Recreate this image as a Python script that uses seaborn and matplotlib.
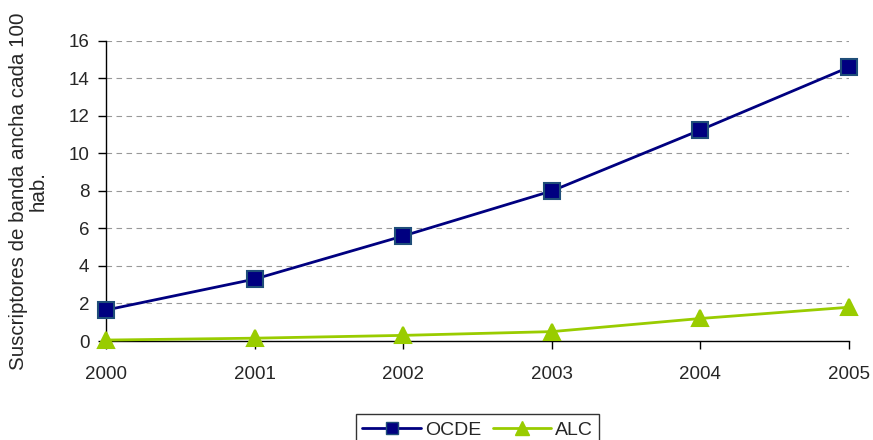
import matplotlib
matplotlib.use("Agg")
import pandas as pd
import seaborn as sns
from matplotlib import pyplot as plt
from matplotlib.lines import Line2D

years = [2000, 2001, 2002, 2003, 2004, 2005]
ocde = [1.65, 3.3, 5.6, 8.0, 11.25, 14.6]
alc = [0.05, 0.15, 0.3, 0.5, 1.2, 1.8]
yticks = [0, 2, 4, 6, 8, 10, 12, 14, 16]

df = pd.DataFrame({"year": years * 2,
                   "value": ocde + alc,
                   "serie": ["OCDE"] * len(years) + ["ALC"] * len(years)})

sns.set_style("white")
plt.rcParams['font.family'] = ['Liberation Sans', 'DejaVu Sans']

fig = plt.figure(figsize=(8.73, 4.4), dpi=100)
ax = fig.add_axes([0.1214, 0.225, 0.8511, 0.682])

palette = {"OCDE": "#000080", "ALC": "#99CC00"}
sns.lineplot(data=df, x="year", y="value", hue="serie", style="serie",
             markers={"OCDE": "s", "ALC": "^"}, dashes=False,
             palette=palette, linewidth=2, markersize=12, ax=ax,
             legend=False)
# marker edges like the original
for line, edge in zip(ax.lines, ["#1F4E79", "#99CC00"]):
    line.set_markeredgecolor(edge)
    line.set_markeredgewidth(1.5)
    line.set_clip_on(False)
    line.set_zorder(5)

ax.set_xlim(2000, 2005)
ax.set_ylim(0, 16)
ax.set_xticks(years)
ax.set_yticks(yticks)
ax.tick_params(axis='both', labelsize=13.5, length=6, width=1, color='black',
               direction='out', left=True, bottom=True)
ax.tick_params(axis='x', pad=12)
ax.tick_params(axis='y', pad=6)
ax.yaxis.grid(True, linestyle=(0, (5, 4)), color='#999999', linewidth=0.8)
ax.xaxis.grid(False)
for s in ["top", "right"]:
    ax.spines[s].set_visible(False)
for s in ["left", "bottom"]:
    ax.spines[s].set_color("black")
    ax.spines[s].set_linewidth(1)
ax.set_xlabel("")
ax.set_ylabel("Suscriptores de banda ancha cada 100\nhab.", fontsize=14.8,
              linespacing=1.1)
ax.yaxis.set_label_coords(-0.078, 0.5)

handles = [Line2D([], [], color="#000080", marker="s", markersize=9,
                  markeredgecolor="#1F4E79", linewidth=2),
           Line2D([], [], color="#99CC00", marker="^", markersize=10,
                  linewidth=2)]
leg = fig.legend(handles, ["OCDE", "ALC"], loc="lower center",
                 bbox_to_anchor=(0.547, -0.035), ncol=2, fontsize=14,
                 frameon=True, fancybox=False, edgecolor="black",
                 handlelength=3.0, columnspacing=0.6, handletextpad=0.2,
                 borderpad=0.35)
leg.get_frame().set_linewidth(1)

fig.savefig("out.png", dpi=100)
